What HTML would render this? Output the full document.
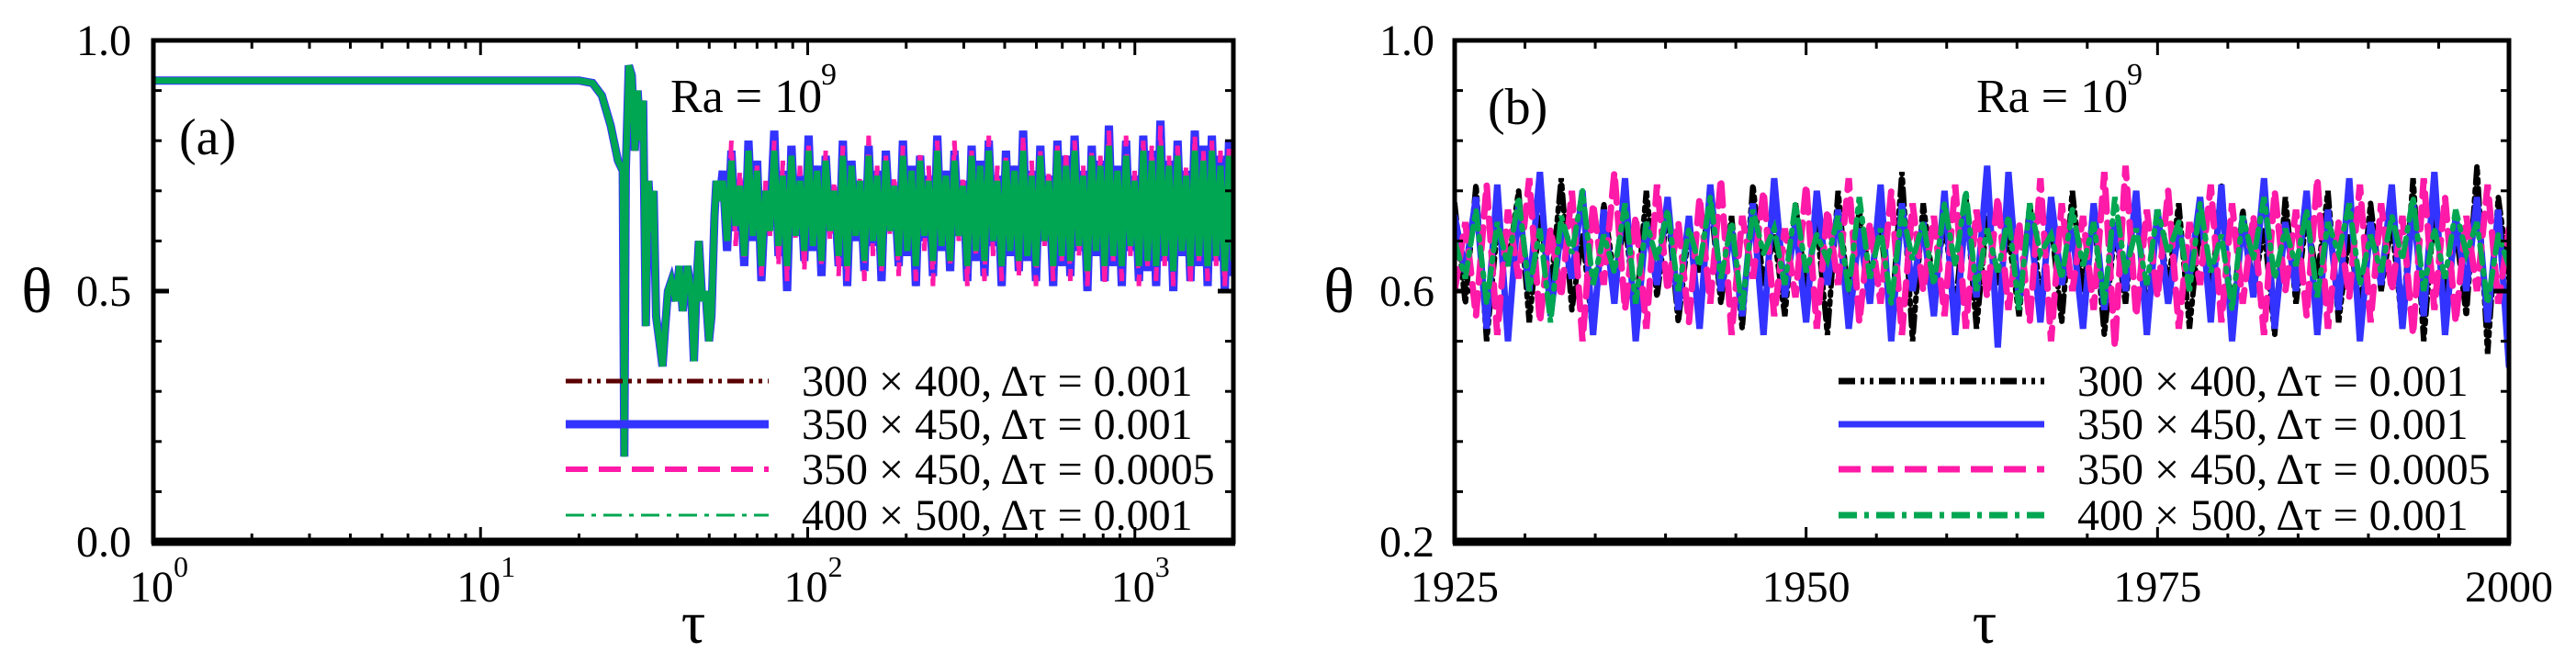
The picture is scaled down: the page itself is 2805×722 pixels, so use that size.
<!DOCTYPE html>
<html><head><meta charset="utf-8"><style>
html,body{margin:0;padding:0;background:#fff;}
svg{display:block;}
text{font-family:"Liberation Serif","DejaVu Serif",serif;fill:#000;}
</style></head><body>
<svg id="fig" width="2805" height="722" viewBox="0 0 2805 722" xmlns="http://www.w3.org/2000/svg">
<g id="pa"></g>
<g id="pb"></g>
</svg>
<script>
// ---------- Panel (a) data ----------
const aXTicks = [1, 10, 100, 1000];
const aXTickExp = ["0", "1", "2", "3"];
const aYTicks = [0.0, 0.5, 1.0];
const aYTickLabels = ["0.0", "0.5", "1.0"];
const aEarlyTau = [1,20,22,23.5,25,26.3,27.2,27.5,27.8,28.4,29,29.6,30.2,30.8,31.4,32,32.6,33.2,33.8,34.4,35.2,36,36.6,37.4,38.3,39.5,40.5,41.5,42.9,44,44.9,45.8,46.5,47.6,48.7,49.9,50.8,51.9,52.6,53.7];
const aEarlyVal = [0.92,0.92,0.915,0.89,0.83,0.76,0.74,0.17,0.74,0.95,0.93,0.78,0.90,0.80,0.88,0.43,0.72,0.62,0.70,0.45,0.40,0.35,0.42,0.50,0.52,0.48,0.55,0.46,0.55,0.50,0.36,0.52,0.60,0.48,0.50,0.40,0.45,0.65,0.72,0.68];
const aDenseStart = 55, aDenseEnd = 2000;
const aBlue = [0.74,0.58,0.78,0.62,0.72,0.55,0.80,0.60,0.76,0.52,0.70,0.63,0.82,0.57,0.74,0.50,0.79,0.61,0.73,0.56,0.81,0.58,0.75,0.53,0.77,0.62,0.70,0.55,0.80,0.51,0.76,0.60,0.72,0.54,0.79,0.59,0.74,0.52,0.78,0.63,0.71,0.55,0.80,0.57,0.75,0.51,0.77,0.60,0.73,0.53,0.81,0.58,0.74,0.54,0.78,0.61,0.72,0.52,0.79,0.56,0.76,0.53,0.80,0.59,0.73,0.51,0.78,0.57,0.75,0.54,0.82,0.56,0.74,0.52,0.79,0.60,0.73,0.51,0.80,0.55,0.77,0.53,0.81,0.58,0.74,0.50,0.79,0.57,0.76,0.52,0.83,0.55,0.75,0.51,0.80,0.58,0.73,0.52,0.81,0.54,0.78,0.51,0.84,0.56,0.76,0.50,0.80,0.57,0.74,0.52,0.82,0.55,0.79,0.51,0.81,0.56,0.77,0.50,0.80,0.53];
const aPink = [0.72,0.60,0.80,0.59,0.74,0.56,0.78,0.62,0.75,0.53,0.72,0.61,0.80,0.55,0.76,0.52,0.77,0.60,0.75,0.54,0.79,0.60,0.73,0.55,0.78,0.60,0.72,0.53,0.79,0.52,0.74,0.62,0.73,0.52,0.81,0.57,0.75,0.54,0.77,0.61,0.73,0.53,0.79,0.59,0.74,0.52,0.78,0.58,0.75,0.51,0.80,0.59,0.72,0.55,0.80,0.60,0.73,0.51,0.78,0.57,0.74,0.52,0.81,0.57,0.75,0.52,0.77,0.58,0.73,0.53,0.81,0.57,0.76,0.51,0.78,0.59,0.74,0.52,0.79,0.56,0.78,0.52,0.80,0.57,0.75,0.51,0.78,0.58,0.77,0.51,0.82,0.56,0.74,0.52,0.81,0.57,0.74,0.51,0.80,0.55,0.79,0.52,0.83,0.55,0.77,0.51,0.79,0.58,0.75,0.51,0.81,0.56,0.78,0.52,0.80,0.55,0.78,0.51,0.79,0.54];
const aGreen = [0.72,0.60,0.76,0.63,0.71,0.57,0.78,0.61,0.74,0.55,0.70,0.62,0.78,0.59,0.73,0.55,0.77,0.61,0.72,0.58,0.78,0.59,0.74,0.56,0.76,0.62,0.70,0.57,0.77,0.55,0.75,0.61,0.72,0.56,0.77,0.60,0.73,0.55,0.76,0.62,0.71,0.57,0.77,0.58,0.74,0.55,0.76,0.61,0.72,0.56,0.78,0.59,0.73,0.56,0.76,0.61,0.71,0.55,0.77,0.58,0.75,0.56,0.78,0.60,0.72,0.55,0.76,0.58,0.74,0.56,0.78,0.57,0.73,0.55,0.77,0.60,0.72,0.55,0.78,0.57,0.75,0.56,0.78,0.59,0.73,0.54,0.77,0.58,0.75,0.55,0.79,0.57,0.74,0.55,0.77,0.59,0.72,0.55,0.78,0.56,0.76,0.55,0.79,0.57,0.75,0.54,0.77,0.58,0.73,0.55,0.78,0.57,0.76,0.55,0.78,0.57,0.75,0.54,0.77,0.56];
const aBrown = aBlue.slice();

// ---------- Panel (b) data ----------
const bXTicks = [1925, 1950, 1975, 2000];
const bXTickLabels = ["1925", "1950", "1975", "2000"];
const bYTicks = [0.2, 0.6, 1.0];
const bYTickLabels = ["0.2", "0.6", "1.0"];
const bTauStart = 1925, bTauEnd = 2000;
const bBlack = [0.74,0.58,0.77,0.52,0.70,0.64,0.76,0.55,0.72,0.60,0.78,0.57,0.69,0.53,0.74,0.62,0.71,0.56,0.76,0.59,0.73,0.55,0.70,0.63,0.75,0.58,0.72,0.54,0.77,0.61,0.69,0.56,0.74,0.60,0.71,0.53,0.76,0.58,0.73,0.62,0.70,0.55,0.79,0.52,0.74,0.60,0.71,0.57,0.75,0.54,0.72,0.61,0.69,0.56,0.74,0.59,0.71,0.55,0.76,0.60,0.73,0.53,0.70,0.58,0.75,0.56,0.72,0.61,0.74,0.54,0.71,0.59,0.77,0.55,0.73,0.60,0.70,0.53,0.75,0.58,0.72,0.62,0.76,0.55,0.69,0.57,0.74,0.60,0.71,0.54,0.78,0.52,0.73,0.59,0.70,0.56,0.80,0.50,0.75,0.62];
const bBlue = [0.72,0.63,0.75,0.54,0.77,0.52,0.74,0.60,0.79,0.56,0.70,0.62,0.76,0.53,0.73,0.58,0.78,0.52,0.71,0.61,0.75,0.57,0.72,0.54,0.77,0.60,0.70,0.56,0.74,0.53,0.78,0.59,0.71,0.55,0.76,0.61,0.73,0.54,0.70,0.58,0.77,0.52,0.74,0.60,0.71,0.56,0.76,0.53,0.73,0.59,0.80,0.51,0.79,0.58,0.72,0.55,0.75,0.61,0.70,0.54,0.74,0.57,0.71,0.60,0.76,0.53,0.73,0.58,0.70,0.62,0.75,0.55,0.77,0.52,0.72,0.59,0.78,0.54,0.71,0.60,0.76,0.53,0.73,0.57,0.78,0.52,0.71,0.61,0.77,0.54,0.74,0.56,0.79,0.53,0.72,0.60,0.75,0.55,0.73,0.48];
const bPink = [0.60,0.71,0.56,0.77,0.53,0.73,0.62,0.78,0.55,0.70,0.59,0.76,0.52,0.74,0.61,0.79,0.57,0.72,0.54,0.77,0.60,0.71,0.55,0.75,0.58,0.78,0.53,0.72,0.62,0.76,0.56,0.70,0.59,0.77,0.54,0.73,0.61,0.78,0.55,0.71,0.58,0.76,0.53,0.74,0.60,0.72,0.56,0.77,0.54,0.73,0.59,0.75,0.57,0.71,0.55,0.78,0.52,0.74,0.60,0.72,0.57,0.79,0.51,0.80,0.56,0.73,0.59,0.76,0.54,0.71,0.61,0.77,0.55,0.74,0.58,0.72,0.53,0.76,0.60,0.73,0.56,0.78,0.54,0.71,0.59,0.77,0.55,0.74,0.60,0.72,0.53,0.78,0.57,0.75,0.55,0.72,0.60,0.77,0.58,0.70];
const bGreen = [0.68,0.62,0.73,0.58,0.71,0.64,0.75,0.60,0.70,0.55,0.72,0.66,0.76,0.61,0.69,0.63,0.74,0.58,0.71,0.65,0.73,0.60,0.70,0.64,0.75,0.62,0.71,0.57,0.73,0.66,0.70,0.61,0.74,0.63,0.69,0.65,0.72,0.60,0.75,0.62,0.70,0.58,0.73,0.65,0.71,0.61,0.74,0.64,0.76,0.60,0.70,0.63,0.72,0.57,0.74,0.66,0.69,0.62,0.73,0.64,0.71,0.58,0.75,0.63,0.70,0.61,0.73,0.66,0.71,0.60,0.74,0.63,0.69,0.57,0.72,0.65,0.75,0.62,0.70,0.64,0.73,0.59,0.71,0.66,0.74,0.61,0.69,0.63,0.72,0.65,0.75,0.60,0.70,0.62,0.73,0.66,0.71,0.58,0.69,0.64];

const legendLabels = ["300 × 400, Δτ = 0.001","350 × 450, Δτ = 0.001","350 × 450, Δτ = 0.0005","400 × 500, Δτ = 0.001"];

const NS = "http://www.w3.org/2000/svg";
function mk(parent, tag, attrs, txt) {
  const e = document.createElementNS(NS, tag);
  for (const k in attrs) e.setAttribute(k, attrs[k]);
  if (txt !== undefined) e.textContent = txt;
  parent.appendChild(e);
  return e;
}

// ---------- Panel (a) ----------
(function(){
  const g = document.getElementById('pa');
  const L=167, R=1343, T=44, B=590;
  const lmin=0, lmax=Math.log10(2000);
  const xs = t => L + (Math.log10(t)-lmin)/(lmax-lmin)*(R-L);
  const ys = v => B - v*(B-T);
  const clip = mk(g,'clipPath',{id:'clipA'});
  mk(clip,'rect',{x:L,y:T,width:R-L,height:B-T});
  function denseTau(n,i){ return Math.pow(10, Math.log10(aDenseStart) + (Math.log10(aDenseEnd)-Math.log10(aDenseStart))*i/(n-1)); }
  function path(vals){
    let d='';
    aEarlyTau.forEach((t,i)=>{ d += (i?'L':'M')+xs(t).toFixed(1)+','+ys(aEarlyVal[i]).toFixed(1); });
    vals.forEach((v,i)=>{ d += 'L'+xs(denseTau(vals.length,i)).toFixed(1)+','+ys(v).toFixed(1); });
    return d;
  }
  const sg = mk(g,'g',{'clip-path':'url(#clipA)'});
  const s1 = mk(sg,'path',{d:path(aBrown),fill:'none',stroke:'#5a0000','stroke-width':4,'stroke-dasharray':'18 6 4 6 4 6'});
  
  
  const s2 = mk(sg,'path',{d:path(aBlue),fill:'none',stroke:'#3333ff','stroke-width':9});
  
  
  const s3 = mk(sg,'path',{d:path(aPink),fill:'none',stroke:'#ff1aa8','stroke-width':5,'stroke-dasharray':'22 10'});
  
  
  const s4 = mk(sg,'path',{d:path(aGreen),fill:'none',stroke:'#00a651','stroke-width':7});
  
  
  const tk = mk(g,'g',{stroke:'#000'});
  for (let v=0; v<=1.0001; v+=0.1) {
    const major = Math.abs(v-Math.round(v*2)/2)<1e-6;
    const len = major?17:9;
    mk(tk,'line',{x1:L,x2:L+len,y1:ys(v),y2:ys(v),'stroke-width':major?5:3});
    mk(tk,'line',{x1:R,x2:R-len,y1:ys(v),y2:ys(v),'stroke-width':major?5:3});
  }
  for (let d=0; d<4; d++) for (let m=1; m<10; m++) {
    const t=Math.pow(10,d)*m; if (t>2000) continue;
    const len = m===1?16:9;
    mk(tk,'line',{x1:xs(t),x2:xs(t),y1:B,y2:B-len,'stroke-width':3});
    mk(tk,'line',{x1:xs(t),x2:xs(t),y1:T,y2:T+len,'stroke-width':3});
  }
  mk(g,'rect',{x:L,y:T,width:R-L,height:B-T,fill:'none',stroke:'#000','stroke-width':5});
  mk(g,'line',{x1:L-2,x2:R+2,y1:B,y2:B,stroke:'#000','stroke-width':9});
  aYTicks.forEach((v,i)=>{
    const t = mk(g,'text',{x:143,y:ys(v)+16,'text-anchor':'end','font-size':48},aYTickLabels[i]);
    
    
  });
  aXTicks.forEach((v,i)=>{
    const t = mk(g,'text',{x:xs(v)-26,y:655,'font-size':48},'10');
    
    
    mk(g,'text',{x:xs(v)+22,y:628,'font-size':32},aXTickExp[i]);
  });
  const xt = mk(g,'text',{x:755,y:700,'text-anchor':'middle','font-size':66},'τ');
  
  
  const yt = mk(g,'text',{x:40,y:340,'text-anchor':'middle','font-size':70},'θ');
  
  
  const pl = mk(g,'text',{x:195,y:168,'font-size':56},'(a)');
  
  
  const ra = mk(g,'text',{x:730,y:122,'font-size':52},'Ra = 10');
  
  
  mk(g,'text',{x:894,y:92,'font-size':34},'9');
  const cols=['#5a0000','#3333ff','#ff1aa8','#00a651'], widths=[5,9,6,3], dashes=['18 6 4 6 4 6','none','24 12','20 8 5 8'];
  const rows=[415,462,511,561];
  legendLabels.forEach((lab,i)=>{
    const le = mk(g,'g',{});
    
    
    mk(le,'line',{x1:616,x2:837,y1:rows[i],y2:rows[i],stroke:cols[i],'stroke-width':widths[i],'stroke-dasharray':dashes[i]});
    mk(le,'text',{x:873,y:rows[i]+16,'font-size':48},lab);
  });
})();

// ---------- Panel (b) ----------
(function(){
  const g = document.getElementById('pb');
  const L=1584, R=2732, T=44, B=590;
  const xs = t => L + (t-1925)/75*(R-L);
  const ys = v => B - (v-0.2)/0.8*(B-T);
  const clip = mk(g,'clipPath',{id:'clipB'});
  mk(clip,'rect',{x:L,y:T,width:R-L,height:B-T});
  function path(vals){
    let d='';
    vals.forEach((v,i)=>{ const t=bTauStart+(bTauEnd-bTauStart)*i/(vals.length-1); d+=(i?'L':'M')+xs(t).toFixed(1)+','+ys(v).toFixed(1); });
    return d;
  }
  const sg = mk(g,'g',{'clip-path':'url(#clipB)','stroke-linecap':'round'});
  const s1 = mk(sg,'path',{d:path(bBlack),fill:'none',stroke:'#000','stroke-width':6,'stroke-dasharray':'18 6 4 6 4 6'});
  
  
  const s2 = mk(sg,'path',{d:path(bBlue),fill:'none',stroke:'#3333ff','stroke-width':7});
  
  
  const s3 = mk(sg,'path',{d:path(bPink),fill:'none',stroke:'#ff1aa8','stroke-width':7,'stroke-dasharray':'24 12'});
  
  
  const s4 = mk(sg,'path',{d:path(bGreen),fill:'none',stroke:'#00a651','stroke-width':6,'stroke-dasharray':'20 8 4 8'});
  
  
  const tk = mk(g,'g',{stroke:'#000'});
  for (let i=0;i<=10;i++){
    const v=0.2+0.08*i; const major=(i%5===0); const len=major?17:9;
    mk(tk,'line',{x1:L,x2:L+len,y1:ys(v),y2:ys(v),'stroke-width':major?5:3});
    mk(tk,'line',{x1:R,x2:R-len,y1:ys(v),y2:ys(v),'stroke-width':major?5:3});
  }
  for (let t=1925;t<=2000;t+=5){
    const major=((t-1925)%25===0); const len=major?16:9;
    mk(tk,'line',{x1:xs(t),x2:xs(t),y1:B,y2:B-len,'stroke-width':3});
    mk(tk,'line',{x1:xs(t),x2:xs(t),y1:T,y2:T+len,'stroke-width':3});
  }
  mk(g,'rect',{x:L,y:T,width:R-L,height:B-T,fill:'none',stroke:'#000','stroke-width':5});
  mk(g,'line',{x1:L-2,x2:R+2,y1:B,y2:B,stroke:'#000','stroke-width':9});
  bYTicks.forEach((v,i)=>{
    const t = mk(g,'text',{x:1562,y:ys(v)+16,'text-anchor':'end','font-size':48},bYTickLabels[i]);
    
    
  });
  bXTicks.forEach((v,i)=>{
    const t = mk(g,'text',{x:xs(v),y:655,'text-anchor':'middle','font-size':48},bXTickLabels[i]);
    
    
  });
  const xt = mk(g,'text',{x:2161,y:700,'text-anchor':'middle','font-size':66},'τ');
  
  
  const yt = mk(g,'text',{x:1458,y:340,'text-anchor':'middle','font-size':70},'θ');
  
  
  const pl = mk(g,'text',{x:1620,y:135,'font-size':56},'(b)');
  
  
  const ra = mk(g,'text',{x:2152,y:122,'font-size':52},'Ra = 10');
  
  
  mk(g,'text',{x:2316,y:92,'font-size':34},'9');
  const cols=['#000','#3333ff','#ff1aa8','#00a651'], widths=[7,7,7,7], dashes=['18 6 4 6 4 6','none','24 12','20 8 5 8'];
  const rows=[415,462,511,561];
  legendLabels.forEach((lab,i)=>{
    const le = mk(g,'g',{});
    
    
    mk(le,'line',{x1:2002,x2:2226,y1:rows[i],y2:rows[i],stroke:cols[i],'stroke-width':widths[i],'stroke-dasharray':dashes[i]});
    mk(le,'text',{x:2262,y:rows[i]+16,'font-size':48},lab);
  });
})();
</script>
</body></html>
